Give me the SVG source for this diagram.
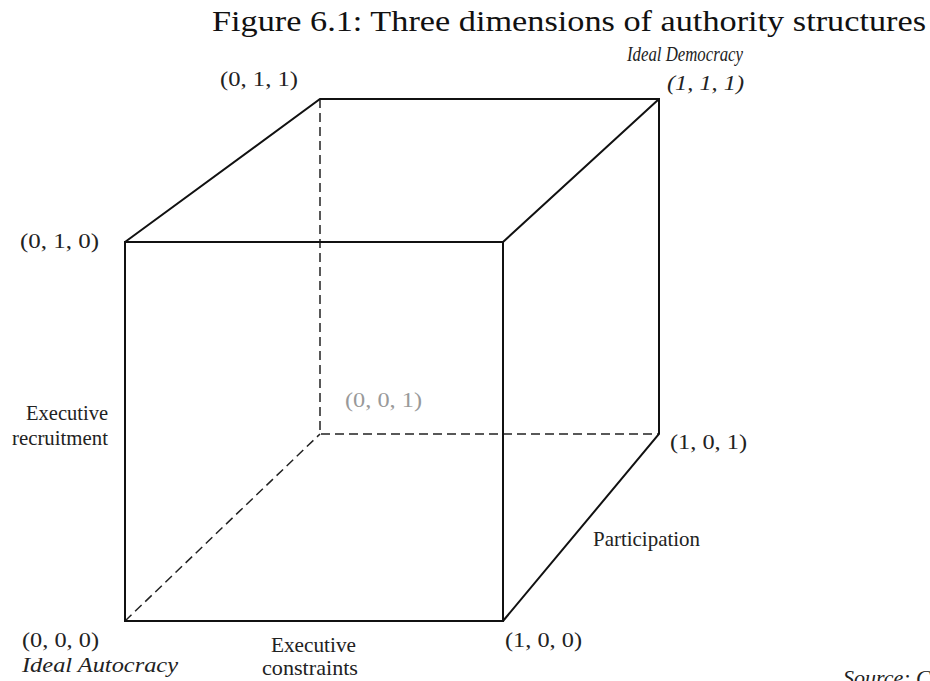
<svg xmlns="http://www.w3.org/2000/svg" width="930" height="681" viewBox="0 0 930 681">
<style>
.t{font-family:"Liberation Serif","Times New Roman",serif;font-size:22px;fill:#222}
.i{font-style:italic}
.g{fill:#999}
.title{font-family:"Liberation Serif","Times New Roman",serif;font-size:29px;fill:#111}
.solid{stroke:#111;stroke-width:2;fill:none}
.dash{stroke:#222;stroke-width:1.5;fill:none;stroke-dasharray:9 5}
</style>
<rect width="930" height="681" fill="#fff"/>
<text class="title" x="212" y="31" textLength="714" lengthAdjust="spacingAndGlyphs">Figure 6.1: Three dimensions of authority structures</text>
<g id="connectors">
<path class="dash" d="M320,99 V434 H659 M125,621 L320,434"/>
<path class="solid" d="M125,242 H503 V621 H125 Z M125,242 L320,99 H659 V434 L503,621 M503,242 L659,99"/>
</g>
<g id="n011"><text class="t" x="220" y="86" textLength="78" lengthAdjust="spacingAndGlyphs">(0, 1, 1)</text></g>
<g id="n111"><text class="t i" x="627" y="61" textLength="116" lengthAdjust="spacingAndGlyphs">Ideal Democracy</text><text class="t i" x="667" y="90" textLength="77" lengthAdjust="spacingAndGlyphs">(1, 1, 1)</text></g>
<g id="n010"><text class="t" x="20" y="248" textLength="79" lengthAdjust="spacingAndGlyphs">(0, 1, 0)</text></g>
<g id="recruitment"><text class="t" x="26" y="420" textLength="82" lengthAdjust="spacingAndGlyphs">Executive</text><text class="t" x="12" y="445" textLength="96" lengthAdjust="spacingAndGlyphs">recruitment</text></g>
<g id="n001"><text class="t g" x="345" y="407" textLength="77" lengthAdjust="spacingAndGlyphs">(0, 0, 1)</text></g>
<g id="n101"><text class="t" x="670" y="449" textLength="77" lengthAdjust="spacingAndGlyphs">(1, 0, 1)</text></g>
<g id="participation"><text class="t" x="593" y="546" textLength="107" lengthAdjust="spacingAndGlyphs">Participation</text></g>
<g id="n000"><text class="t" x="22" y="647" textLength="77" lengthAdjust="spacingAndGlyphs">(0, 0, 0)</text><text class="t i" x="22" y="672" textLength="156" lengthAdjust="spacingAndGlyphs">Ideal Autocracy</text></g>
<g id="constraints"><text class="t" x="271" y="652" textLength="85" lengthAdjust="spacingAndGlyphs">Executive</text><text class="t" x="262" y="675" textLength="96" lengthAdjust="spacingAndGlyphs">constraints</text></g>
<g id="n100"><text class="t" x="505" y="647" textLength="77" lengthAdjust="spacingAndGlyphs">(1, 0, 0)</text></g>
<text class="t i" x="843" y="685" font-size="20">Source: C</text>
</svg>
